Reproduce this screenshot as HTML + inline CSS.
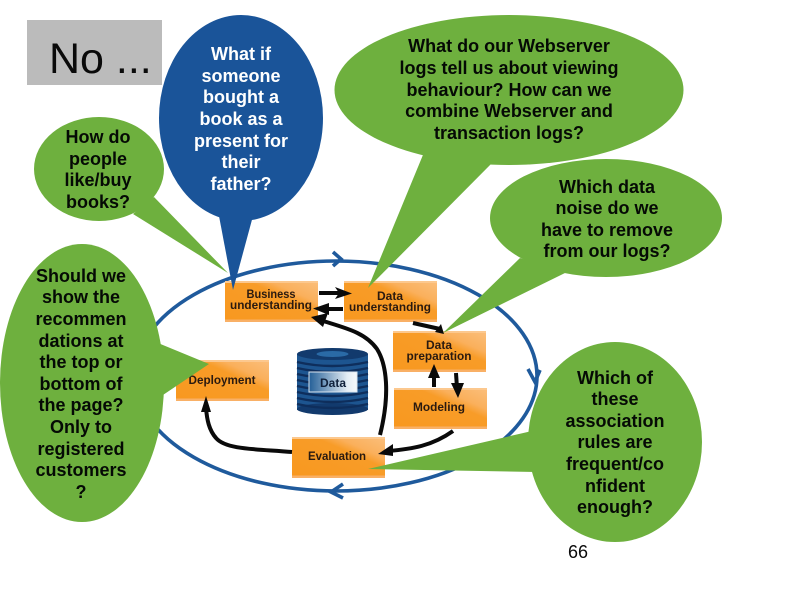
<!DOCTYPE html>
<html>
<head>
<meta charset="utf-8">
<style>
html,body{margin:0;padding:0;background:#fff;width:794px;height:595px;overflow:hidden}
svg{display:block}
text{font-family:"Liberation Sans",Arial,sans-serif}
.c{font-size:18px;font-weight:bold;text-anchor:middle;fill:#050a05}
.w{fill:#fff}
.b{font-size:11.5px;font-weight:bold;fill:#2a1a10;text-anchor:middle}
.k{fill:none;stroke:#0a0a0a;stroke-width:4}
</style>
</head>
<body>
<svg width="794" height="595" viewBox="0 0 794 595" xmlns="http://www.w3.org/2000/svg">
<defs>
<linearGradient id="o" x1="0" y1="1" x2="1" y2="0">
<stop offset="0" stop-color="#f8981f"/><stop offset=".62" stop-color="#f89c28"/><stop offset=".74" stop-color="#fab05c"/><stop offset="1" stop-color="#fbbf7c"/>
</linearGradient>
<linearGradient id="d" x1="0" y1="0" x2="1" y2="0">
<stop offset="0" stop-color="#245f97"/><stop offset=".8" stop-color="#e4edf5"/><stop offset="1" stop-color="#f6f9fc"/>
</linearGradient>
<g id="box"><rect width="93" height="41" fill="url(#o)"/><rect y="38.500" width="93" height="2.500" fill="#f9b066"/><rect width="93" height="2" fill="#fcc88e"/></g>
</defs>

<rect x="27" y="20" width="135" height="65" fill="#bbbbbb"/>
<text x="49" y="73" font-size="43" fill="#0a0a0a">No ...</text>

<!-- process ellipse -->
<ellipse cx="336" cy="376" rx="201" ry="115" fill="none" stroke="#1f5a9c" stroke-width="3.600"/>
<path d="M333 252L341 259L333 266M528 369L535 382L540 370M343 484L331 492L343 498" fill="none" stroke="#1f5a9c" stroke-width="3.600"/>

<!-- boxes -->
<use href="#box" x="225" y="281"/>
<use href="#box" x="344" y="281"/>
<use href="#box" x="393" y="331"/>
<use href="#box" x="394" y="388"/>
<use href="#box" x="292" y="437"/>
<use href="#box" x="176" y="360"/>
<text class="b" x="271" y="298" textLength="49" lengthAdjust="spacingAndGlyphs">Business</text>
<text class="b" x="271" y="309" textLength="82" lengthAdjust="spacingAndGlyphs">understanding</text>
<text class="b" x="390" y="300" textLength="26" lengthAdjust="spacingAndGlyphs">Data</text>
<text class="b" x="390" y="311" textLength="82" lengthAdjust="spacingAndGlyphs">understanding</text>
<text class="b" x="439" y="349" textLength="26" lengthAdjust="spacingAndGlyphs">Data</text>
<text class="b" x="439" y="360" textLength="65" lengthAdjust="spacingAndGlyphs">preparation</text>
<text class="b" x="439" y="411" textLength="52" lengthAdjust="spacingAndGlyphs">Modeling</text>
<text class="b" x="337" y="460" textLength="58" lengthAdjust="spacingAndGlyphs">Evaluation</text>
<text class="b" x="222" y="384" textLength="67" lengthAdjust="spacingAndGlyphs">Deployment</text>

<!-- data cylinder -->
<rect x="297" y="354" width="71" height="56" fill="#1d5590"/>
<ellipse cx="332.500" cy="409" rx="35.500" ry="6" fill="#123a6d"/>
<g fill="none" stroke="#0e2e5c" stroke-width="2.400">
<path d="M297 362Q332 370 368 362M297 368Q332 376 368 368M297 374Q332 382 368 374M297 380Q332 388 368 380M297 386Q332 394 368 386M297 392Q332 400 368 392M297 398Q332 406 368 398M297 404Q332 412 368 404"/>
</g>
<ellipse cx="332.500" cy="354" rx="35.500" ry="6" fill="#123a6d"/>
<ellipse cx="332.500" cy="354" rx="16" ry="3" fill="#2a6aa6"/>
<rect x="309" y="372" width="48" height="20" fill="url(#d)"/>
<rect x="309" y="372" width="48" height="20" fill="none" stroke="#dce6f0" stroke-width="1"/>
<text x="333" y="387" font-size="11.500" font-weight="bold" fill="#10203a" text-anchor="middle" textLength="26" lengthAdjust="spacingAndGlyphs">Data</text>

<!-- black arrows -->
<path class="k" d="M319 293H342"/><path d="M335 287L352 293.500L335 299L339 293Z" fill="#0a0a0a"/>
<path class="k" d="M343 309H322"/><path d="M329 303L313 308.500L329 315Z" fill="#0a0a0a"/>
<path class="k" d="M380 435C390 395 387 365 377 349C365 332 345 328 320 320"/><path d="M328 313L311 317L323 327Z" fill="#0a0a0a"/>
<path class="k" d="M292 452C258 449 226 450 216 438C209 430 207 420 206 408"/><path d="M206 396L201 412L211 412Z" fill="#0a0a0a"/>
<path class="k" d="M413 323L440 329"/><path d="M441 324L444 334L435 332Z" fill="#0a0a0a"/>
<path class="k" d="M434 387V372"/><path d="M434 364L428 378L440 378Z" fill="#0a0a0a"/>
<path class="k" d="M456 373L457 388"/><path d="M458 398L451 383L464 383Z" fill="#0a0a0a"/>
<path class="k" d="M453 431C432 446 412 449 388 451"/><path d="M378 454L393 444L393 456Z" fill="#0a0a0a"/>

<!-- callouts -->
<g fill="#6eb03e">
<ellipse cx="99" cy="169" rx="65" ry="52"/>
<path d="M154 197L228 273L133 214Z"/>
<ellipse cx="82" cy="383" rx="82" ry="139"/>
<path d="M158 343L209 364L160 397Z"/>
<ellipse cx="509" cy="90" rx="174.500" ry="75"/>
<path d="M425 150L368 288L495 160Z"/>
<ellipse cx="606" cy="218" rx="116" ry="59"/>
<path d="M520 258L443 333L565 273Z"/>
<ellipse cx="615" cy="442" rx="87" ry="100"/>
<path d="M532 431L368 469L536 472Z"/>
</g>
<ellipse cx="241" cy="118" rx="82" ry="103" fill="#1a5499"/>
<path d="M219 216L233 290L253 216Z" fill="#1a5499"/>

<!-- callout text -->
<g class="c">
<text class="c" x="98" y="143">How do</text>
<text class="c" x="98" y="165">people</text>
<text class="c" x="98" y="186">like/buy</text>
<text class="c" x="98" y="208">books?</text>

<text class="c w" x="241" y="60">What if</text>
<text class="c w" x="241" y="82">someone</text>
<text class="c w" x="241" y="103">bought a</text>
<text class="c w" x="241" y="125">book as a</text>
<text class="c w" x="241" y="147">present for</text>
<text class="c w" x="241" y="168">their</text>
<text class="c w" x="241" y="190">father?</text>

<text class="c" x="81" y="282">Should we</text>
<text class="c" x="81" y="303">show the</text>
<text class="c" x="81" y="325">recommen</text>
<text class="c" x="81" y="347">dations at</text>
<text class="c" x="81" y="368">the top or</text>
<text class="c" x="81" y="390">bottom of</text>
<text class="c" x="81" y="411">the page?</text>
<text class="c" x="81" y="433">Only to</text>
<text class="c" x="81" y="455">registered</text>
<text class="c" x="81" y="476">customers</text>
<text class="c" x="81" y="498">?</text>

<text class="c" x="509" y="52">What do our Webserver</text>
<text class="c" x="509" y="74">logs tell us about viewing</text>
<text class="c" x="509" y="96">behaviour? How can we</text>
<text class="c" x="509" y="117">combine Webserver and</text>
<text class="c" x="509" y="139">transaction logs?</text>

<text class="c" x="607" y="193">Which data</text>
<text class="c" x="607" y="214">noise do we</text>
<text class="c" x="607" y="236">have to remove</text>
<text class="c" x="607" y="257">from our logs?</text>

<text class="c" x="615" y="384">Which of</text>
<text class="c" x="615" y="405">these</text>
<text class="c" x="615" y="427">association</text>
<text class="c" x="615" y="448">rules are</text>
<text class="c" x="615" y="470">frequent/co</text>
<text class="c" x="615" y="492">nfident</text>
<text class="c" x="615" y="513">enough?</text>
</g>

<text x="568" y="558" font-size="18" fill="#0a0a0a">66</text>
</svg>
</body>
</html>
